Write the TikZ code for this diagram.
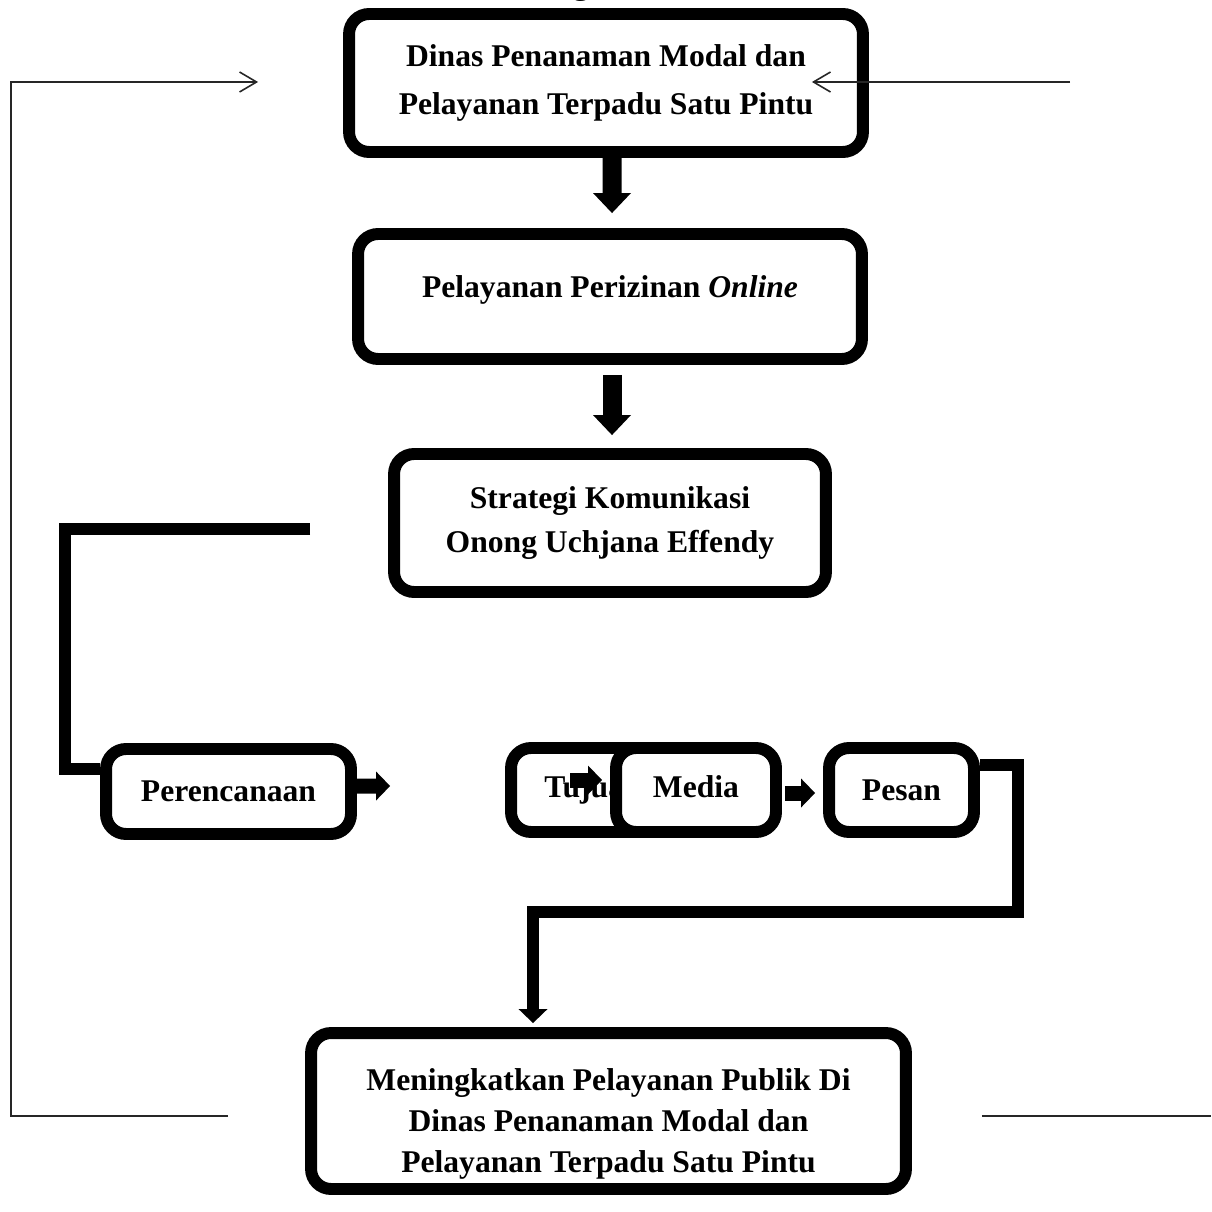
\documentclass[tikz,border=0pt]{standalone}
\usepackage{fontspec}
\setmainfont{Liberation Serif}
\usetikzlibrary{arrows.meta, positioning}
\tikzset{
    box/.style={draw, line width=6.8pt, outer sep=3.4pt, rounded corners=0.4cm, fill=white, align=center, font=\fontsize{18}{27.3}\selectfont\bfseries},
    boxtext/.style={align=center, font=\fontsize{18}{23.3}\selectfont\bfseries},
    bigarrow/.style={line width=0.38cm, -{Triangle[width=0.76cm, length=0.4cm, line width=0pt]}},
    smallarrow/.style={line width=0.3cm, -{Triangle[width=0.58cm, length=0.28cm, line width=0pt]}},
    bracket/.style={line width=6.8pt},
    loopline/.style={line width=0.9pt, black!85},
}

\begin{document}
\begin{tikzpicture}[x=0.02cm, y=-0.02cm]
        \useasboundingbox (0, 0) rectangle (1211, 1212);

        \node[font=\fontsize{18}{22}\selectfont\bfseries, anchor=base] (title) at (593, -5) {Kerangka Pikir};

        \node[box, minimum width=10.28cm, minimum height=2.76cm] (dinas) at (606, 83) {Dinas Penanaman Modal dan\\Pelayanan Terpadu Satu Pintu};
        \node[box, minimum width=10.08cm, minimum height=2.5cm] (online) at (610, 296.5) {\raisebox{0.13cm}[\height][\depth]{Pelayanan Perizinan \textit{Online}}};
        \node[box, minimum width=8.64cm, minimum height=2.76cm, font=\fontsize{18}{24.5}\selectfont\bfseries] (strategi) at (610, 523) {Strategi Komunikasi\\Onong Uchjana Effendy};

        \draw[bigarrow, shorten >=0.3cm] ([xshift=0.12cm]dinas.south) -- ([xshift=0.04cm]online.north);
        \draw[bigarrow, shorten <=0.2cm, shorten >=0.26cm] ([xshift=0.04cm]online.south) -- ([xshift=0.04cm]strategi.north);

        %%%

        \node[box, minimum width=4.9cm, minimum height=1.7cm] (plan) at (228.5, 791.5) {Perencanaan};
        \node[box, minimum width=3.28cm, minimum height=1.68cm] (tujuan) at (593, 790) {Tujuan};
        \draw[smallarrow] ([shift={(-0.46cm, 0.2cm)}]tujuan.center) -- ([shift={(0.18cm, 0.2cm)}]tujuan.center);
        \node[box, minimum width=3.2cm, minimum height=1.68cm] (media) at (696, 790) {\raisebox{0.06cm}[\height][\depth]{Media}};
        \node[box, minimum width=2.9cm, minimum height=1.68cm] (pesan) at (901.5, 790) {Pesan};

        \draw[smallarrow, shorten >=2.3cm] ([yshift=0.11cm]plan.east) -- ([yshift=0.08cm]tujuan.west);
        \draw[smallarrow, shorten <=0.06cm, shorten >=0.16cm] ([yshift=-0.06cm]media.east) -- ([yshift=-0.06cm]pesan.west);

        \coordinate (bracketL) at (310, 529);
        \draw[bracket] (bracketL) -| (65, 769) -- (65, 769 -| plan.west);

        %%%

        \node[box, minimum width=11.9cm, minimum height=3.12cm, label={[boxtext, yshift=-0.26cm]center:{Meningkatkan Pelayanan Publik Di\\Dinas Penanaman Modal dan\\Pelayanan Terpadu Satu Pintu}}] (result) at (608.5, 1111) {};

        \draw[bracket, -{Triangle[width=0.58cm, length=0.28cm, line width=0pt]}, shorten >=0.08cm] (pesan.east |- 0, 765) -| (1018, 912) -| (result.north -| 533, 0);

        \coordinate (loopB) at (228, 1116);
        \coordinate (loopR) at (1070, 82);
        \coordinate (loopE) at (1211, 1116);
        \draw[loopline, -{Straight Barb[length=0.34cm, width=0.4cm]}, shorten >=1.7cm] (loopB) -| (11, 82) -- (0, 82 -| dinas.west);
        \draw[loopline, -{Straight Barb[length=0.34cm, width=0.4cm]}] (loopR) -- ([xshift=-1.14cm]loopR -| dinas.east);
        \draw[loopline, shorten <=1.4cm] (result.east |- loopE) -- (loopE);
    \end{tikzpicture}
\end{document}
